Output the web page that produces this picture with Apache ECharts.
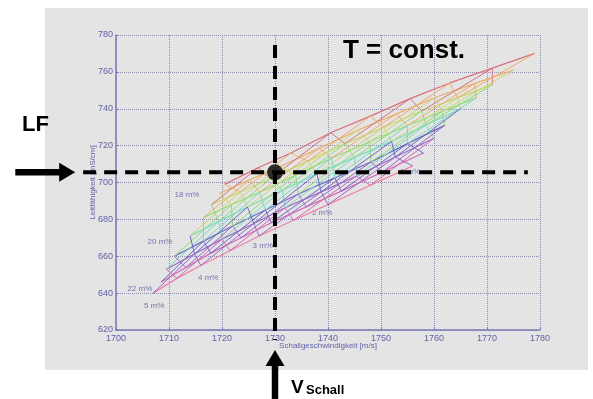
<!DOCTYPE html>
<html>
<head>
<meta charset="utf-8">
<script src="https://cdn.jsdelivr.net/npm/echarts@6/dist/echarts.min.js"></script>
<style>
    html, body { margin: 0; padding: 0; background: #fff; }
    #chart { width: 593px; height: 399px; }
</style>
</head>
<body>
<div id="chart"></div>
<script>
    // Netzlinien von oben (rot) nach unten (rosa), Stützstellen je m%-Stufe (5 ... 1 m%)
    const b50X = [1720.5, 1719.5, 1718, 1716.5, 1714, 1711, 1709.5, 1708.5, 1707];
    const b50Y = [699, 694, 688, 681, 671, 660, 653, 646, 640];
    const b45X = [1726.8, 1725.2, 1723.5, 1721.8, 1719.4, 1716.5, 1714.8, 1713.2, 1711.5];
    const b45Y = [708, 701.4, 695, 687.9, 678.9, 668.2, 661.2, 653.9, 648];
    const b40X = [1733, 1731, 1729.1, 1727.1, 1724.8, 1722, 1720, 1717.9, 1716];
    const b40Y = [716, 708.7, 702, 694.7, 686.7, 676.4, 669.3, 661.7, 655];
    const b35X = [1740.5, 1738.3, 1736.2, 1733.9, 1731.4, 1728.2, 1726, 1723.6, 1721.5];
    const b35Y = [727, 718.5, 711.6, 704, 695.8, 685.1, 677.8, 670, 663];
    const b30X = [1748, 1745.5, 1743.2, 1740.7, 1737.9, 1734.4, 1731.9, 1729.3, 1727];
    const b30Y = [736, 728.2, 721.1, 713.3, 704.8, 693.8, 686.3, 678.2, 671];
    const b25X = [1755.5, 1752.9, 1750.5, 1747.9, 1745, 1741.3, 1738.7, 1735.9, 1733.5];
    const b25Y = [745.5, 737.2, 730, 722.1, 713.6, 702.5, 694.9, 686.8, 679.5];
    const b20X = [1763, 1760.2, 1757.7, 1755, 1752, 1748.1, 1745.4, 1742.5, 1740];
    const b20Y = [754, 746.1, 738.8, 730.9, 722.3, 711.1, 703.5, 695.3, 688];
    const b15X = [1771, 1767.6, 1764.4, 1761.5, 1758.5, 1755, 1752.7, 1750.3, 1748];
    const b15Y = [762, 753.6, 745.9, 738.5, 731.2, 721.1, 713.8, 705.7, 698.5];
    const b10X = [1779, 1775, 1771, 1768, 1765, 1762, 1760, 1758, 1756];
    const b10Y = [770, 761, 753, 746, 740, 731, 724, 716, 709];
    const lineColors = ['#d8707c', '#eeac6c', '#c8d86a', '#8edc78', '#78dcc0', '#6a6ac4', '#9a6ac8', '#d46ab8', '#ee80a8'];

    // Beschriftungen im Netz
    const pctLabels = ['18 m%', '20 m%', '22 m%', '5 m%', '4 m%', '3 m%', '2 m%', '1 m%'];
    const pctX = [1713.4, 1708.3, 1704.5, 1707.2, 1717.4, 1727.7, 1738.9, 1755.5];
    const pctY = [693.2, 667.7, 642.3, 633, 648.2, 665.6, 683.5, 705.7];

    // Ablesepunkt mit Hilfslinien und Pfeilen
    const vSchall = 1730;
    const lf = 705.5;
    const lfDash = [1693.8, 1777.7];
    const vDash = [614.6, 774.6];
    const lfArrow = [1681, 1692.3];
    const vArrow = [582.6, 609.2];

    const xTicks = [1700, 1710, 1720, 1730, 1740, 1750, 1760, 1770, 1780];
    const yTicks = [620, 640, 660, 680, 700, 720, 740, 760, 780];

    const stations = [[b50X, b50Y], [b45X, b45Y], [b40X, b40Y], [b35X, b35Y], [b30X, b30Y],
                      [b25X, b25Y], [b20X, b20Y], [b15X, b15Y], [b10X, b10Y]];
    const pt = (k, j) => [stations[j][0][k], stations[j][1][k]];

    const series = [];
    // Längslinien
    lineColors.forEach((c, k) => {
        series.push({
            type: 'line', symbol: 'none', silent: true,
            data: stations.map((s, j) => pt(k, j)),
            lineStyle: { color: c, width: 1.2 }
        });
    });
    // Zickzack-Querverbindungen (zwei Phasen ergeben Rauten)
    for (let k = 0; k < lineColors.length - 2; k++) {
        const m = k + 2;
        [0, 1].forEach(phase => {
            const data = [];
            for (let j = 0; j < stations.length; j++) {
                data.push((j + phase) % 2 === 1 ? pt(k, j) : pt(m, j));
            }
            series.push({
                type: 'line', symbol: 'none', silent: true,
                data: data,
                lineStyle: { color: lineColors[k + phase], width: 1 }
            });
        });
    }
    // Beschriftungen
    series.push({
        type: 'scatter', symbolSize: 0, silent: true, clip: false,
        data: pctLabels.map((t, i) => ({ name: t, value: [pctX[i], pctY[i]] })),
        label: {
            show: true, position: 'inside', formatter: '{b}',
            color: '#5858a0', fontSize: 8, fontFamily: 'Liberation Sans'
        }
    });
    // gestrichelte Ablese-Linien und Pfeile
    series.push({
        type: 'custom', coordinateSystem: 'cartesian2d', clip: false, silent: true, z: 5,
        data: [
            [lfDash[0], lf, lfDash[1], lf, 0],
            [vSchall, vDash[1], vSchall, vDash[0], 0],
            [lfArrow[0], lf, lfArrow[1], lf, 1],
            [vSchall, vArrow[0], vSchall, vArrow[1], 1]
        ],
        renderItem: function (params, api) {
            const a = api.coord([api.value(0), api.value(1)]);
            const b = api.coord([api.value(2), api.value(3)]);
            if (api.value(4) === 0) {
                return {
                    type: 'line',
                    shape: { x1: a[0], y1: a[1], x2: b[0], y2: b[1] },
                    style: { stroke: '#000', lineWidth: 4, lineDash: [13, 8] }
                };
            }
            const dx = b[0] - a[0], dy = b[1] - a[1];
            const len = Math.sqrt(dx * dx + dy * dy);
            const ux = dx / len, uy = dy / len;
            const head = 16, half = 9.5;
            const base = [b[0] - ux * head, b[1] - uy * head];
            return {
                type: 'group',
                children: [{
                    type: 'line',
                    shape: { x1: a[0], y1: a[1], x2: base[0] + ux, y2: base[1] + uy },
                    style: { stroke: '#000', lineWidth: 6.5 }
                }, {
                    type: 'polygon',
                    shape: { points: [b, [base[0] - uy * half, base[1] + ux * half], [base[0] + uy * half, base[1] - ux * half]] },
                    style: { fill: '#000' }
                }]
            };
        }
    });
    // Punkt
    series.push({
        type: 'scatter', symbolSize: 16, silent: true, z: 6,
        itemStyle: { color: '#000' },
        data: [[vSchall, lf]]
    });

    const axisColor = '#7a7ab4';
    const option = {
        backgroundColor: '#fff',
        animation: false,
        textStyle: { fontFamily: 'Liberation Sans' },
        grid: { left: 116, right: 53, top: 35, bottom: 69 },
        graphic: [
            { type: 'rect', z: -10, shape: { x: 45, y: 8, width: 543, height: 362 }, style: { fill: '#e4e4e4' } },
            { type: 'text', left: 343, top: 38, style: { text: 'T = const.', font: 'bold 26px "Liberation Sans"', fill: '#000' } },
            { type: 'text', left: 22, top: 114, style: { text: 'LF', font: 'bold 22px "Liberation Sans"', fill: '#000' } },
            { type: 'text', left: 291, top: 378, style: { text: 'V', font: 'bold 19px "Liberation Sans"', fill: '#000' } },
            { type: 'text', left: 306, top: 384, style: { text: 'Schall', font: 'bold 13px "Liberation Sans"', fill: '#000' } }
        ],
        xAxis: {
            type: 'value', min: 1700, max: 1780, interval: 10,
            name: 'Schallgeschwindigkeit [m/s]', nameLocation: 'middle', nameGap: 12, nameMoveOverlap: false,
            nameTextStyle: { color: '#6262a8', fontSize: 8 },
            axisLine: { lineStyle: { color: axisColor, width: 1.5 } },
            axisTick: { inside: true, length: 3, lineStyle: { color: axisColor } },
            axisLabel: { color: '#6262a8', fontSize: 9, margin: 4, formatter: v => xTicks.includes(v) ? String(v) : '' },
            splitLine: { show: true, lineStyle: { color: '#8c8cae', type: 'dotted', width: 1 } }
        },
        yAxis: {
            type: 'value', min: 620, max: 780, interval: 20,
            name: 'Leitfähigkeit [mS/cm]', nameLocation: 'middle', nameGap: 19, nameMoveOverlap: false,
            nameTextStyle: { color: '#6262a8', fontSize: 8 },
            axisLine: { show: true, lineStyle: { color: axisColor, width: 1.5 } },
            axisTick: { show: true, inside: true, length: 3, lineStyle: { color: axisColor } },
            axisLabel: { color: '#6262a8', fontSize: 9, margin: 3, formatter: v => yTicks.includes(v) ? String(v) : '' },
            splitLine: { show: true, lineStyle: { color: '#8c8cae', type: 'dotted', width: 1 } }
        },
        series: series
    };

    const chart = echarts.init(document.getElementById('chart'));
    chart.setOption(option);
</script>
</body>
</html>
